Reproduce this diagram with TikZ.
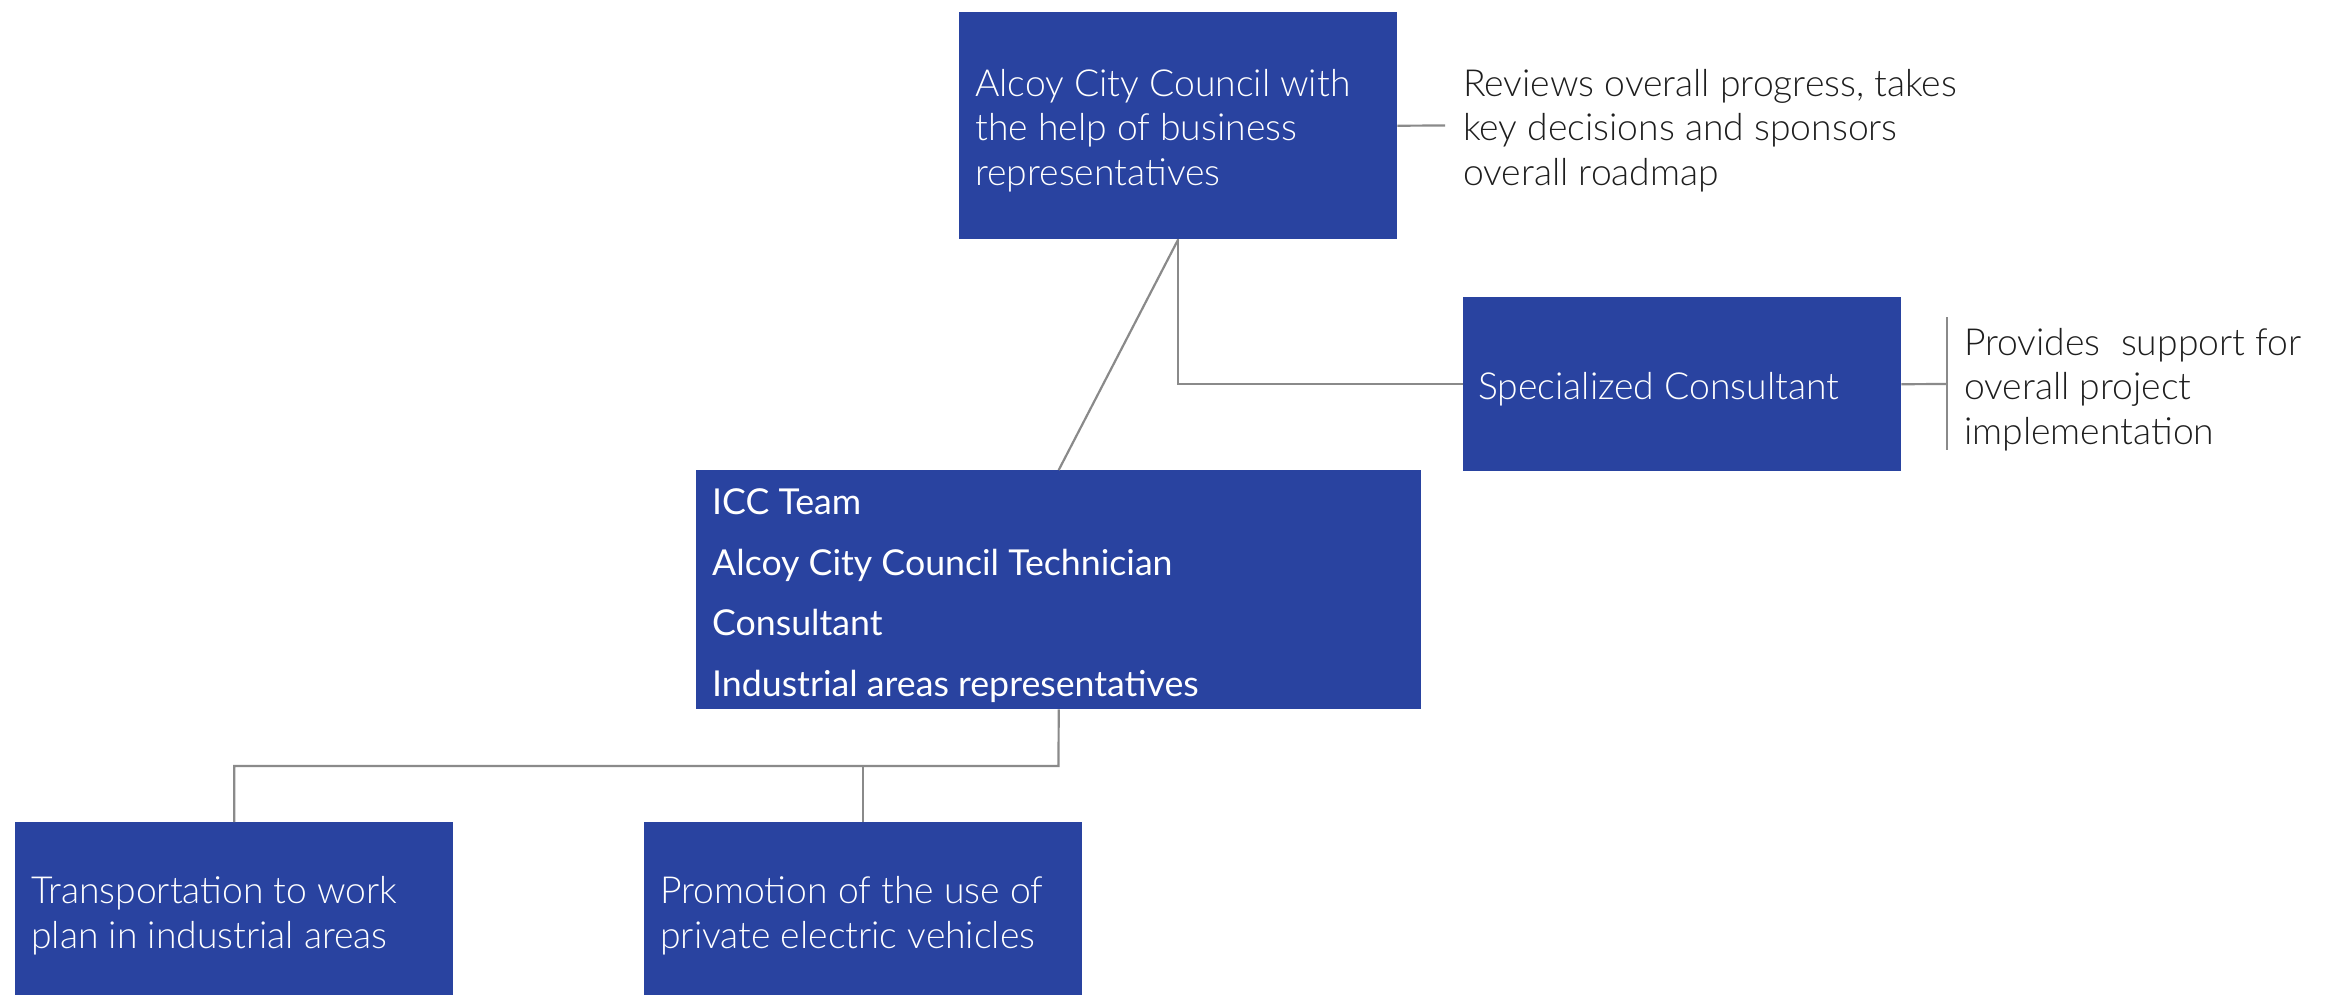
\documentclass[tikz,border=0pt]{standalone}
\usepackage{fontspec}
\setmainfont{Lato}
\newfontfamily\latolight{Lato Light}
\definecolor{boxblue}{HTML}{2943A0}
\definecolor{linegray}{HTML}{8A8A8A}
\definecolor{notetext}{HTML}{1E1E1E}
\tikzset{
  bluebox/.style={draw=none, fill=boxblue, rectangle, anchor=north west, inner sep=0pt},
  boxtext/.style={anchor=west, inner sep=0pt, align=left, text=white, font=\latolight\fontsize{37.3}{44.6}\selectfont},
  teamtext/.style={boxtext, font=\fontsize{35.7}{60.5}\selectfont},
  notebox/.style={anchor=west, inner sep=0pt, align=left, text=notetext, font=\latolight\fontsize{37.3}{44.6}\selectfont},
  link/.style={draw=linegray, line width=2.2pt}
}
\begin{document}
\begin{tikzpicture}[x=1pt, y=-1pt]
\useasboundingbox (0,0) rectangle (2331,1002);
\node[bluebox, minimum width=438pt, minimum height=227pt] (A) at (959,12) {};
\node[bluebox, minimum width=438pt, minimum height=174pt] (S) at (1463,297) {};
\node[bluebox, minimum width=725pt, minimum height=239pt] (I) at (696,470) {};
\node[bluebox, minimum width=438pt, minimum height=173pt] (T) at (15,822) {};
\node[bluebox, minimum width=438pt, minimum height=173pt] (P) at (644,822) {};
\node[boxtext] (At) at ([xshift=16pt, yshift=-5pt]A.west)
  {Alcoy City Council with\\the help of business\\representatives};
\node[boxtext] (St) at ([xshift=15pt, yshift=-5pt]S.west)
  {Specialized Consultant};
\node[teamtext] (It) at ([xshift=16pt, yshift=-6pt]I.west)
  {ICC Team\\Alcoy City Council Technician\\Consultant\\Industrial areas representatives};
\node[boxtext] (Tt) at ([xshift=16pt, yshift=-7pt]T.west)
  {Transportation to work\\plan in industrial areas};
\node[boxtext] (Pt) at ([xshift=16pt, yshift=-7pt]P.west)
  {Promotion of the use of\\private electric vehicles};
\node[notebox] (NA) at (1463,130.5)
  {Reviews overall progress, takes\\key decisions and sponsors\\overall roadmap};
\node[notebox] (NS) at (1964,389.5)
  {Provides\ \ support for\\overall project\\implementation};
\coordinate (atip) at (1445,125.5);
\coordinate (stip) at (1947,384);
\coordinate (bartop) at (1947,317);
\coordinate (barbot) at (1947,450);
\coordinate (split) at (1058.5,766);
\draw[link] (A.east) -- (atip);
\draw[link] (A.south) |- (S.west);
\draw[link] (A.south) -- (I.north);
\draw[link] (S.east) -- (stip);
\draw[link] (bartop) -- (barbot);
\draw[link] (I.south) -- (split) -| (T.north);
\draw[link] (split) -| (P.north);
\end{tikzpicture}
\end{document}
